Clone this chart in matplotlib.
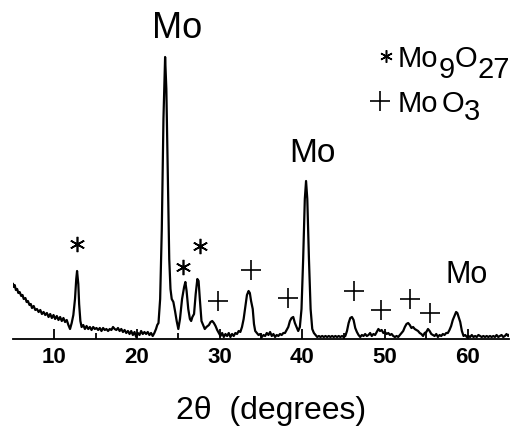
import matplotlib
matplotlib.use("Agg")
import matplotlib.pyplot as plt

plt.rcParams['font.family'] = ['Liberation Sans', 'DejaVu Sans']

# ---- data (2theta in degrees, intensity in arbitrary units) ----
two_theta = [
    5.0, 5.1, 5.2, 5.35, 5.5, 5.65, 5.8, 6.0, 6.15, 6.3, 6.5, 6.65, 6.8, 7.0, 7.15, 7.3, 7.5, 7.7, 7.9,
    8.1, 8.3, 8.5, 8.7, 8.9, 9.1, 9.3, 9.5, 9.7, 9.9, 10.1, 10.3, 10.5, 10.7, 10.9, 11.1, 11.3, 11.5,
    11.7, 11.9, 12.1, 12.3, 12.5, 12.65, 12.75, 12.9, 13.0, 13.15, 13.3, 13.5, 13.7, 13.9, 14.1, 14.3,
    14.5, 14.7, 14.9, 15.1, 15.3, 15.5, 15.7, 15.9, 16.1, 16.3, 16.5, 16.7, 16.9, 17.1, 17.3, 17.5,
    17.7, 17.9, 18.1, 18.3, 18.5, 18.7, 18.9, 19.1, 19.3, 19.5, 19.7, 19.9, 20.1, 20.3, 20.5, 20.7,
    20.9, 21.1, 21.3, 21.5, 21.7, 21.9, 22.1, 22.3, 22.45, 22.6, 22.8, 23.0, 23.2, 23.4, 23.55, 23.75,
    23.9, 24.05, 24.2, 24.4, 24.6, 24.8, 25.0, 25.2, 25.45, 25.7, 25.85, 26.0, 26.2, 26.4, 26.55, 26.7,
    26.9, 27.1, 27.3, 27.45, 27.6, 27.8, 28.0, 28.2, 28.4, 28.7, 28.9, 29.1, 29.3, 29.5, 29.7, 29.9,
    30.1, 30.3, 30.5, 30.7, 30.9, 31.1, 31.3, 31.5, 31.7, 31.9, 32.1, 32.3, 32.5, 32.7, 32.9, 33.1,
    33.3, 33.5, 33.65, 33.8, 34.0, 34.15, 34.3, 34.5, 34.7, 34.9, 35.1, 35.3, 35.5, 35.7, 35.9, 36.1,
    36.3, 36.5, 36.7, 36.9, 37.1, 37.3, 37.5, 37.7, 37.9, 38.1, 38.3, 38.5, 38.7, 38.9, 39.1, 39.3,
    39.5, 39.7, 39.9, 40.1, 40.3, 40.45, 40.6, 40.8, 41.0, 41.2, 41.4, 41.6, 41.8, 42.0, 42.2, 42.4,
    42.6, 42.8, 43.0, 43.2, 43.4, 43.6, 43.8, 44.0, 44.2, 44.4, 44.6, 44.8, 45.0, 45.2, 45.4, 45.6,
    45.8, 46.0, 46.2, 46.4, 46.6, 46.8, 47.0, 47.2, 47.4, 47.6, 47.8, 48.0, 48.2, 48.4, 48.6, 48.8,
    49.0, 49.2, 49.4, 49.6, 49.8, 50.0, 50.2, 50.4, 50.6, 50.8, 51.0, 51.2, 51.4, 51.6, 51.8, 52.0,
    52.2, 52.4, 52.6, 52.8, 53.0, 53.2, 53.4, 53.6, 53.8, 54.0, 54.2, 54.4, 54.6, 54.8, 55.0, 55.2,
    55.4, 55.6, 55.8, 56.0, 56.2, 56.4, 56.6, 56.8, 57.0, 57.2, 57.4, 57.6, 57.8, 58.0, 58.2, 58.4,
    58.6, 58.75, 58.9, 59.1, 59.3, 59.5, 59.7, 59.9, 60.1, 60.3, 60.5, 60.7, 60.9, 61.1, 61.3, 61.5,
    61.7, 61.9, 62.1, 62.3, 62.5, 62.7, 62.9, 63.1, 63.3, 63.5, 63.7, 63.9, 64.1, 64.3, 64.5, 64.7,
    64.9, 65.0,
]
intensity = [
    55, 52, 54, 49, 50, 46, 47, 43, 44, 40, 41, 37, 38, 34, 35, 31, 33, 29, 30,
    27, 29, 25, 27, 24, 26, 22, 25, 21, 24, 20, 23, 19, 22, 18, 21, 17, 19,
    14, 10, 16, 24, 40, 60, 68, 55, 35, 18, 12, 14, 10, 13, 10, 12,
    9, 12, 10, 11, 9, 11, 8, 11, 9, 10, 8, 10, 9, 12, 10, 9,
    11, 8, 10, 7, 9, 6, 8, 5, 8, 4, 7, 2, 6, 4, 8, 5,
    7, 5, 7, 4, 6, 3, 6, 10, 14, 16, 40, 110, 220, 282, 250, 150,
    80, 50, 40, 37, 28, 18, 10, 20, 40, 52, 57, 48, 30, 20, 18, 22,
    25, 45, 60, 58, 40, 18, 14, 10, 12, 14, 17, 18, 16, 13, 9, 6,
    3, 6, 2, 5, 3, 6, 2, 5, 3, 6, 5, 8, 7, 12, 20, 32,
    44, 48, 46, 38, 30, 15, 8, 6, 4, 5, 2, 4, 3, 6, 4, 7,
    3, 5, 2, 4, 3, 5, 4, 6, 6, 9, 12, 18, 21, 22, 16, 12,
    8, 12, 30, 80, 140, 158, 140, 80, 30, 10, 6, 4, 2, 3, 2, 3,
    2, 3, 2, 3, 2, 3, 2, 3, 2, 3, 2, 3, 2, 3, 8, 16,
    21, 22, 19, 11, 7, 4, 2, 4, 3, 5, 3, 4, 6, 3, 5, 4,
    7, 10, 8, 9, 6, 7, 5, 6, 4, 5, 3, 2, 3, 2, 4, 6,
    8, 12, 15, 16, 14, 11, 12, 10, 9, 8, 6, 5, 3, 6, 7, 10,
    8, 5, 4, 3, 5, 2, 4, 3, 5, 4, 6, 6, 9, 13, 19, 23,
    27, 26, 22, 17, 8, 3, 4, 2, 3, 2, 4, 2, 3, 2, 4, 3,
    2, 3, 2, 3, 2, 3, 2, 3, 2, 4, 2, 3, 4, 2, 3, 5,
    3, 4,
]

x_ticks = [10, 20, 30, 40, 50, 60]
x_tick_labels = ['10', '20', '30', '40', '50', '60']
x_minor_ticks = [15, 25, 35, 45, 55]

# annotation marker positions (2theta, height)
star_x = [12.74, 25.56, 27.62]
star_y = [95, 72, 93]
plus_x = [29.80, 33.79, 38.27, 46.25, 49.52, 53.02, 55.44]
plus_y = [38, 69, 41, 48, 29, 40, 26]
mo_labels = ['Mo', 'Mo', 'Mo']
mo_x = [24.84, 41.17, 59.92]
mo_y = [311, 187, 65]
mo_size = [26, 24, 22]

W, H = 519, 427
fig = plt.figure(figsize=(W / 100, H / 100), dpi=100)
ax = fig.add_axes([13 / W, 1 - 340 / H, 496 / W, 340 / H])
ax.plot(two_theta, intensity, color='black', lw=1.6)
ax.set_xlim(5, 65)
ax.set_ylim(0, 340)

for s in ['top', 'right', 'left']:
    ax.spines[s].set_visible(False)
ax.spines['bottom'].set_linewidth(1.3)
ax.set_yticks([])
ax.set_xticks(x_ticks)
ax.set_xticklabels(x_tick_labels, fontsize=16, fontweight='bold')
ax.set_xticks(x_minor_ticks, minor=True)
ax.tick_params(axis='x', which='major', direction='in', length=7, width=1.3, pad=5)
ax.tick_params(axis='x', which='minor', direction='in', length=4, width=1.3)

ax.plot(star_x, star_y, ls='none', marker=(6, 2, 0), ms=11, mew=1.2, color='black', clip_on=False)
ax.plot(plus_x, plus_y, ls='none', marker='+', ms=15, mew=1.2, color='black', clip_on=False)
for lab, x, y, fs in zip(mo_labels, mo_x, mo_y, mo_size):
    ax.text(x, y, lab, fontsize=fs, ha='center', va='center', clip_on=False)

# x label
fig.text(271 / W, 1 - 411 / H, '2\u03b8  (degrees)', fontsize=23, ha='center', va='center')

# legend (drawn as chained text pieces with big subscripts)
renderer = fig.canvas.get_renderer()


def chain(x0, base_y, parts, size):
    x = x0
    for s, dy, gap in parts:
        t = fig.text((x + gap) / W, 1 - (base_y + dy) / H, s, fontsize=size, ha='left', va='baseline')
        bb = t.get_window_extent(renderer)
        x = bb.x1


fig.lines.append(plt.Line2D([386 / W], [1 - 57 / H], transform=fig.transFigure, marker=(6, 2, 0),
                            ms=9, mew=1.1, color='black', ls='none'))
fig.lines.append(plt.Line2D([380 / W], [1 - 102 / H], transform=fig.transFigure, marker='+',
                            ms=14, mew=1.2, color='black', ls='none'))
chain(398, 67, [('Mo', 0, 0), ('9', 11, 0), ('O', 0, 0), ('27', 11, 0)], 21)
chain(398, 112, [('Mo', 0, 0), ('O', 0, 3), ('3', 8, 0)], 21)

fig.savefig('out.png', dpi=100)
